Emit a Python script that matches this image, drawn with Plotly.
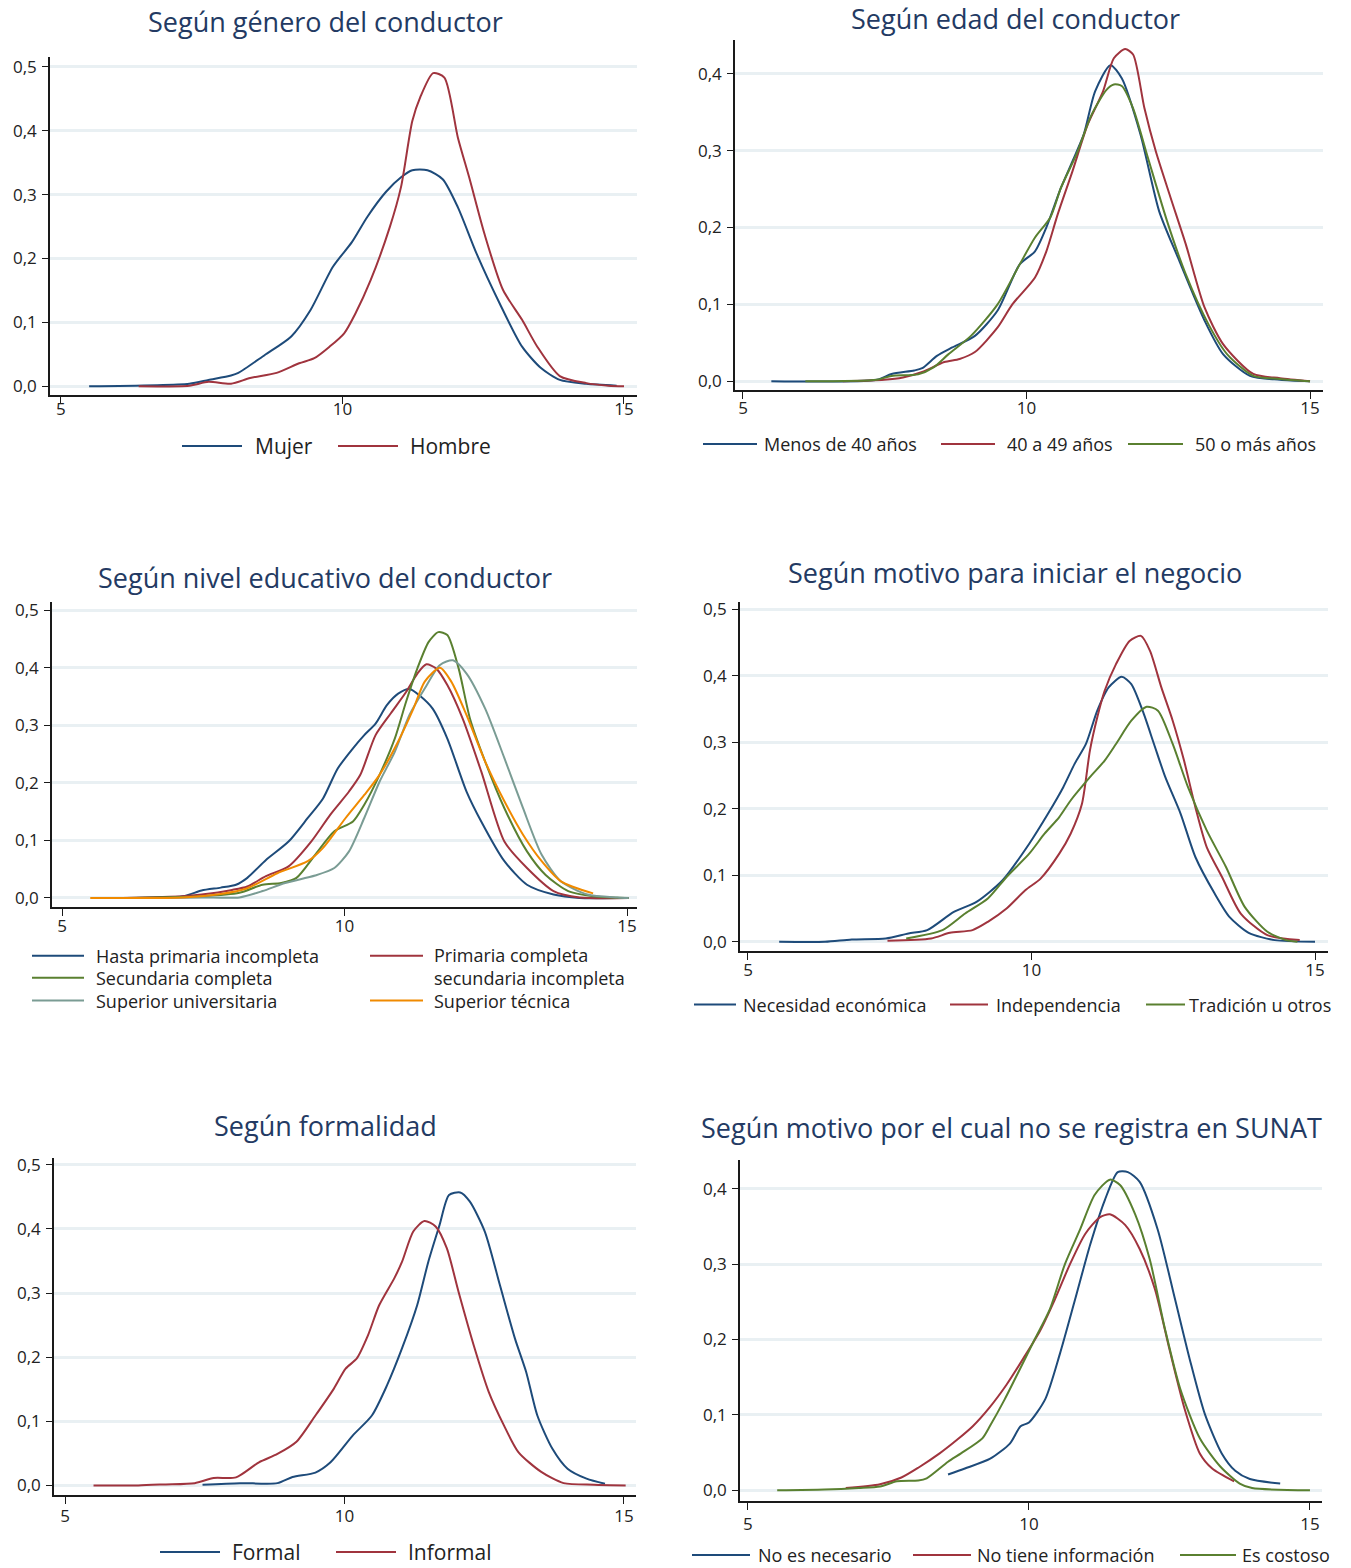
import plotly.graph_objects as go

W, H = 1351, 1568

# ---------------- DATA ----------------
# Panel 1: Según género del conductor
mujer_x = [5.50, 7.28, 7.62, 8.02, 8.15, 8.62, 9.09, 9.43, 9.83, 10.17, 10.44, 10.77, 11.04, 11.24, 11.51, 11.78, 12.05, 12.38, 12.79, 13.19, 13.52, 13.86, 14.33, 14.87]
mujer_y = [0.0, 0.004, 0.010, 0.017, 0.021, 0.049, 0.078, 0.119, 0.187, 0.226, 0.265, 0.304, 0.327, 0.338, 0.338, 0.324, 0.280, 0.208, 0.130, 0.062, 0.029, 0.010, 0.004, 0.001]
hombre_x = [6.38, 7.28, 7.62, 8.02, 8.36, 8.83, 9.23, 9.50, 9.77, 10.03, 10.23, 10.50, 10.84, 11.04, 11.24, 11.38, 11.61, 11.81, 12.05, 12.25, 12.52, 12.85, 13.19, 13.46, 13.86, 14.33, 14.73, 15.0]
hombre_y = [0.0, 0.001, 0.007, 0.004, 0.013, 0.021, 0.036, 0.044, 0.062, 0.083, 0.114, 0.166, 0.249, 0.312, 0.415, 0.452, 0.490, 0.483, 0.389, 0.327, 0.239, 0.151, 0.104, 0.062, 0.016, 0.005, 0.001, 0.0]

# Panel 2: Según edad del conductor
menos40_x = [5.50, 7.36, 7.62, 8.02, 8.16, 8.42, 8.69, 9.09, 9.49, 9.88, 10.15, 10.35, 10.61, 10.81, 11.01, 11.21, 11.48, 11.68, 12.01, 12.34, 12.67, 13.14, 13.47, 13.94, 14.47, 15.0]
menos40_y = [0.0, 0.002, 0.0095, 0.014, 0.017, 0.033, 0.044, 0.059, 0.092, 0.152, 0.169, 0.200, 0.252, 0.286, 0.321, 0.377, 0.411, 0.394, 0.321, 0.221, 0.161, 0.079, 0.035, 0.007, 0.002, 0.0]
de40a49_x = [6.76, 7.49, 7.82, 8.16, 8.55, 8.82, 9.09, 9.49, 9.75, 10.15, 10.35, 10.55, 10.81, 11.08, 11.35, 11.54, 11.74, 11.88, 12.08, 12.28, 12.54, 12.81, 13.14, 13.47, 14.0, 14.47, 15.0]
de40a49_y = [0.0, 0.002, 0.005, 0.012, 0.025, 0.029, 0.038, 0.070, 0.100, 0.135, 0.169, 0.217, 0.273, 0.334, 0.377, 0.420, 0.432, 0.425, 0.355, 0.299, 0.239, 0.178, 0.096, 0.048, 0.0095, 0.004, 0.0]
mas50_x = [6.10, 7.36, 7.62, 8.09, 8.36, 8.62, 9.02, 9.49, 9.88, 10.15, 10.42, 10.61, 10.88, 11.15, 11.41, 11.54, 11.68, 11.88, 12.14, 12.48, 12.81, 13.21, 13.54, 14.0, 14.47, 15.0]
mas50_y = [0.0, 0.002, 0.007, 0.009, 0.018, 0.035, 0.059, 0.100, 0.152, 0.187, 0.213, 0.252, 0.295, 0.347, 0.379, 0.386, 0.384, 0.355, 0.291, 0.208, 0.139, 0.074, 0.035, 0.007, 0.003, 0.0]

# Panel 3: Según nivel educativo del conductor
hpi_x = [6.07, 7.14, 7.47, 7.81, 8.08, 8.28, 8.61, 9.01, 9.35, 9.62, 9.88, 10.15, 10.35, 10.55, 10.75, 10.95, 11.15, 11.35, 11.56, 11.82, 12.16, 12.42, 12.83, 13.23, 13.70, 14.16, 14.83]
hpi_y = [0.0, 0.003, 0.013, 0.018, 0.023, 0.035, 0.066, 0.098, 0.139, 0.173, 0.225, 0.260, 0.283, 0.303, 0.335, 0.355, 0.363, 0.350, 0.329, 0.277, 0.185, 0.133, 0.064, 0.023, 0.006, 0.0, 0.0]
pcsi_x = [6.07, 7.14, 7.47, 8.01, 8.28, 8.61, 9.01, 9.41, 9.75, 10.08, 10.28, 10.55, 10.82, 11.09, 11.29, 11.45, 11.62, 11.82, 12.09, 12.42, 12.83, 13.23, 13.70, 14.16, 15.03]
pcsi_y = [0.0, 0.003, 0.006, 0.014, 0.020, 0.038, 0.055, 0.098, 0.145, 0.185, 0.214, 0.283, 0.321, 0.358, 0.390, 0.406, 0.399, 0.370, 0.312, 0.220, 0.098, 0.052, 0.012, 0.001, 0.0]
sc_x = [6.14, 7.47, 8.14, 8.55, 8.88, 9.15, 9.48, 9.82, 10.15, 10.35, 10.62, 10.89, 11.09, 11.29, 11.49, 11.66, 11.82, 12.02, 12.22, 12.49, 12.83, 13.23, 13.56, 13.96, 14.50, 15.03]
sc_y = [0.0, 0.003, 0.009, 0.023, 0.026, 0.035, 0.075, 0.116, 0.133, 0.162, 0.214, 0.277, 0.341, 0.399, 0.445, 0.462, 0.457, 0.399, 0.312, 0.237, 0.156, 0.081, 0.040, 0.012, 0.002, 0.0]
su_x = [6.81, 7.47, 8.14, 8.55, 8.95, 9.48, 9.82, 10.08, 10.35, 10.62, 10.89, 11.15, 11.42, 11.69, 11.92, 12.16, 12.49, 12.83, 13.16, 13.49, 13.83, 14.30, 14.83, 15.03]
su_y = [0.0, 0.001, 0.001, 0.012, 0.026, 0.039, 0.052, 0.081, 0.139, 0.202, 0.254, 0.318, 0.364, 0.405, 0.413, 0.390, 0.329, 0.243, 0.156, 0.075, 0.029, 0.006, 0.001, 0.0]
st_x = [5.50, 6.14, 7.14, 7.81, 8.28, 8.81, 9.35, 9.62, 10.02, 10.35, 10.62, 10.95, 11.22, 11.42, 11.69, 11.89, 12.16, 12.49, 12.83, 13.16, 13.49, 13.83, 14.40]
st_y = [0.0, 0.0, 0.001, 0.007, 0.017, 0.043, 0.064, 0.087, 0.139, 0.179, 0.214, 0.272, 0.329, 0.376, 0.400, 0.376, 0.318, 0.237, 0.168, 0.110, 0.064, 0.029, 0.008]

# Panel 4: Según motivo para iniciar el negocio
nec_x = [5.55, 6.36, 6.83, 7.43, 7.83, 8.16, 8.63, 9.03, 9.49, 9.96, 10.29, 10.56, 10.76, 10.96, 11.16, 11.36, 11.59, 11.76, 11.96, 12.16, 12.36, 12.63, 12.89, 13.23, 13.49, 13.83, 14.29, 15.0]
nec_y = [0.0, 0.0, 0.0035, 0.005, 0.0125, 0.0175, 0.045, 0.060, 0.0925, 0.1475, 0.1925, 0.2325, 0.2675, 0.2975, 0.3475, 0.3825, 0.3985, 0.3875, 0.3475, 0.2975, 0.2475, 0.1925, 0.1275, 0.0725, 0.0375, 0.0135, 0.0025, 0.0]
ind_x = [7.46, 8.23, 8.56, 8.96, 9.23, 9.56, 9.89, 10.16, 10.49, 10.69, 10.89, 11.03, 11.16, 11.29, 11.49, 11.73, 11.93, 12.09, 12.29, 12.49, 12.69, 12.89, 13.09, 13.36, 13.69, 14.16, 14.73]
ind_y = [0.0015, 0.005, 0.0135, 0.0175, 0.030, 0.050, 0.0775, 0.095, 0.1325, 0.1625, 0.2075, 0.2875, 0.3375, 0.3775, 0.4175, 0.4525, 0.460, 0.4375, 0.3825, 0.3325, 0.2725, 0.2025, 0.1425, 0.0975, 0.0425, 0.010, 0.0025]
tra_x = [7.79, 8.43, 8.83, 9.23, 9.56, 9.96, 10.23, 10.49, 10.69, 11.03, 11.29, 11.49, 11.76, 12.03, 12.23, 12.49, 12.76, 13.09, 13.43, 13.76, 14.16, 14.49, 14.69]
tra_y = [0.005, 0.0175, 0.0425, 0.065, 0.0975, 0.1325, 0.1625, 0.1875, 0.2125, 0.2475, 0.2725, 0.2975, 0.3325, 0.3535, 0.3475, 0.2975, 0.2325, 0.1675, 0.1125, 0.0525, 0.015, 0.0025, 0.0]

# Panel 5: Según formalidad
formal_x = [7.46, 8.13, 8.80, 9.07, 9.48, 9.75, 10.15, 10.49, 10.76, 11.03, 11.30, 11.50, 11.70, 11.87, 12.07, 12.24, 12.51, 12.78, 13.05, 13.25, 13.45, 13.72, 13.99, 14.33, 14.66]
formal_y = [0.001, 0.0035, 0.0035, 0.013, 0.020, 0.036, 0.078, 0.109, 0.156, 0.214, 0.281, 0.349, 0.406, 0.453, 0.457, 0.443, 0.396, 0.3125, 0.229, 0.177, 0.109, 0.057, 0.026, 0.0105, 0.0025]
informal_x = [5.51, 6.31, 6.78, 7.32, 7.66, 8.06, 8.47, 8.80, 9.14, 9.48, 9.81, 10.02, 10.22, 10.42, 10.62, 10.89, 11.03, 11.23, 11.43, 11.63, 11.83, 12.04, 12.31, 12.58, 12.85, 13.11, 13.52, 13.92, 14.46, 15.03]
informal_y = [0.0, 0.0, 0.0015, 0.0035, 0.0115, 0.0125, 0.036, 0.049, 0.068, 0.109, 0.151, 0.182, 0.198, 0.234, 0.281, 0.323, 0.349, 0.396, 0.4125, 0.404, 0.370, 0.302, 0.219, 0.146, 0.094, 0.052, 0.021, 0.0035, 0.001, 0.0]

# Panel 6: Según motivo por el cual no se registra en SUNAT
nonec_x = [8.56, 8.86, 9.31, 9.66, 9.85, 10.0, 10.29, 10.55, 10.82, 11.09, 11.35, 11.58, 11.76, 11.97, 12.29, 12.60, 12.86, 13.13, 13.43, 13.67, 13.93, 14.47]
nonec_y = [0.021, 0.029, 0.042, 0.062, 0.085, 0.090, 0.121, 0.181, 0.253, 0.326, 0.385, 0.422, 0.422, 0.409, 0.346, 0.253, 0.174, 0.101, 0.049, 0.026, 0.015, 0.009]
noinfo_x = [6.74, 7.35, 7.73, 8.03, 8.41, 8.72, 9.0, 9.3, 9.6, 9.9, 10.2, 10.46, 10.73, 11.0, 11.26, 11.44, 11.71, 11.97, 12.24, 12.50, 12.77, 13.04, 13.26, 13.65]
noinfo_y = [0.003, 0.008, 0.017, 0.030, 0.049, 0.067, 0.085, 0.110, 0.140, 0.175, 0.212, 0.253, 0.300, 0.340, 0.362, 0.366, 0.352, 0.320, 0.267, 0.187, 0.108, 0.049, 0.029, 0.012]
costoso_x = [5.52, 6.36, 6.97, 7.35, 7.65, 8.03, 8.18, 8.56, 8.79, 9.17, 9.31, 9.57, 9.84, 10.10, 10.37, 10.64, 10.91, 11.17, 11.44, 11.62, 11.89, 12.15, 12.42, 12.69, 13.04, 13.40, 13.75, 13.97, 15.0]
costoso_y = [0.0, 0.001, 0.003, 0.005, 0.012, 0.013, 0.016, 0.038, 0.049, 0.069, 0.086, 0.121, 0.161, 0.200, 0.240, 0.300, 0.346, 0.392, 0.412, 0.405, 0.366, 0.306, 0.214, 0.135, 0.069, 0.032, 0.009, 0.003, 0.0]

titles = ["Según género del conductor", "Según edad del conductor",
          "Según nivel educativo del conductor", "Según motivo para iniciar el negocio",
          "Según formalidad", "Según motivo por el cual no se registra en SUNAT"]
x_ticks = [5, 10, 15]
y_ticks_05 = [0, 0.1, 0.2, 0.3, 0.4, 0.5]
y_ticks_04 = [0, 0.1, 0.2, 0.3, 0.4]

# ---------------- STYLE ----------------
BLUE = "#1e4b7a"
RED = "#a0343e"
GREEN = "#5a8030"
GRAY = "#7a9c94"
ORANGE = "#f08a00"
TITLE_C = "#233a63"
FONT = "Open Sans"

panels = [
    dict(series=[("Mujer", mujer_x, mujer_y, BLUE), ("Hombre", hombre_x, hombre_y, RED)],
         dom_px=(50, 637), dom_py=(52, 392), xr=(4.805, 15.231), yr=(-0.014, 0.5156), yt=y_ticks_05,
         title_xy=(325, 17), xstand=-9),
    dict(series=[("Menos de 40 años", menos40_x, menos40_y, BLUE), ("40 a 49 años", de40a49_x, de40a49_y, RED),
                 ("50 o más años", mas50_x, mas50_y, GREEN)],
         dom_px=(735, 1323), dom_py=(35, 387), xr=(4.859, 15.229), yr=(-0.0117, 0.444), yt=y_ticks_04,
         title_xy=(1015, 14), xstand=-5),
    dict(series=[("Hasta primaria incompleta", hpi_x, hpi_y, BLUE),
                 ("Primaria completa<br>secundaria incompleta", pcsi_x, pcsi_y, RED),
                 ("Secundaria completa", sc_x, sc_y, GREEN),
                 ("Superior universitaria", su_x, su_y, GRAY),
                 ("Superior técnica", st_x, st_y, ORANGE)],
         dom_px=(52, 637), dom_py=(600, 906), xr=(4.823, 15.177), yr=(-0.0156, 0.5138), yt=y_ticks_05,
         title_xy=(325, 575), xstand=-4),
    dict(series=[("Necesidad económica", nec_x, nec_y, BLUE), ("Independencia", ind_x, ind_y, RED),
                 ("Tradición u otros", tra_x, tra_y, GREEN)],
         dom_px=(740, 1328), dom_py=(600, 950), xr=(4.859, 15.229), yr=(-0.0135, 0.5105), yt=y_ticks_05,
         title_xy=(1015, 570), xstand=-4),
    dict(series=[("Formal", formal_x, formal_y, BLUE), ("Informal", informal_x, informal_y, RED)],
         dom_px=(54, 636), dom_py=(1158, 1497), xr=(4.803, 15.215), yr=(-0.0155, 0.511), yt=y_ticks_05,
         title_xy=(325, 1126), xstand=-2),
    dict(series=[("No es necesario", nonec_x, nonec_y, BLUE), ("No tiene información", noinfo_x, noinfo_y, RED),
                 ("Es costoso", costoso_x, costoso_y, GREEN)],
         dom_px=(740, 1322), dom_py=(1160, 1503), xr=(4.858, 15.214), yr=(-0.0145, 0.4383), yt=y_ticks_04,
         title_xy=(1011, 1128), xstand=0),
]

# legend layouts: (line_x0, line_x1, text_x, y, fontsize) per series
legends = [
    [(182, 242, 253, 443, 21), (338, 398, 408, 443, 21)],
    [(703, 757, 762, 441, 18), (941, 995, 1005, 441, 18), (1128, 1183, 1193, 441, 18)],
    [(32, 84, 94, 955, 18), (370, 423, 432, 966, 18), (32, 84, 94, 977, 18), (32, 84, 94, 1000, 18), (370, 423, 432, 1000, 18)],
    [(694, 736, 741, 1004, 18), (950, 988, 994, 1004, 18), (1146, 1185, 1187, 1004, 18)],
    [(160, 220, 230, 1554, 21), (336, 396, 406, 1554, 21)],
    [(692, 750, 756, 1557, 18), (913, 971, 975, 1557, 18), (1180, 1236, 1240, 1557, 18)],
]

def px(x):
    return x / W

def py(y):
    return 1 - y / H

fig = go.Figure()
shapes = []
annotations = []

for i, p in enumerate(panels):
    n = i + 1
    xa = "x" if n == 1 else f"x{n}"
    ya = "y" if n == 1 else f"y{n}"
    for (name, xs, ys, col) in p["series"]:
        fig.add_trace(go.Scatter(x=xs, y=ys, mode="lines", name=name.replace("<br>", " "),
                                 line=dict(color=col, width=2, shape="spline", smoothing=0.7),
                                 xaxis=xa, yaxis=ya, showlegend=False, hoverinfo="skip"))
    xkey = "xaxis" if n == 1 else f"xaxis{n}"
    ykey = "yaxis" if n == 1 else f"yaxis{n}"
    fig.update_layout(**{
        xkey: dict(domain=[px(p["dom_px"][0]), px(p["dom_px"][1])], range=list(p["xr"]),
                   anchor=ya, tickvals=x_ticks, showgrid=False, zeroline=False,
                   showline=True, linecolor="#1a1a1a", linewidth=1.5,
                   ticks="outside", ticklen=7, tickcolor="#1a1a1a", tickwidth=1.2,
                   ticklabelstandoff=p["xstand"],
                   tickfont=dict(family=FONT, size=17, color="#222222")),
        ykey: dict(domain=[py(p["dom_py"][1]), py(p["dom_py"][0])], range=list(p["yr"]),
                   anchor=xa, tickvals=p["yt"], tickformat=".1f", showgrid=True,
                   gridcolor="#e9f0f3", gridwidth=2.5, zeroline=False,
                   showline=True, linecolor="#1a1a1a", linewidth=1.5,
                   ticks="outside", ticklen=6, tickcolor="#1a1a1a", tickwidth=1.2,
                   ticklabelstandoff=2,
                   tickfont=dict(family=FONT, size=17, color="#222222")),
    })
    annotations.append(dict(text=titles[i], x=px(p["title_xy"][0]), y=py(p["title_xy"][1]),
                            xref="paper", yref="paper", xanchor="center", yanchor="middle",
                            showarrow=False, font=dict(family=FONT, size=27, color=TITLE_C)))
    for (name, xs, ys, col), (lx0, lx1, tx, ly, fs) in zip(p["series"], legends[i]):
        if "<br>" in name:
            line_y = ly - 11
        else:
            line_y = ly
        shapes.append(dict(type="line", xref="paper", yref="paper",
                           x0=px(lx0), x1=px(lx1), y0=py(line_y), y1=py(line_y),
                           line=dict(color=col, width=2)))
        annotations.append(dict(text=name, x=px(tx), y=py(ly), xref="paper", yref="paper",
                                xanchor="left", yanchor="middle", align="left", showarrow=False,
                                font=dict(family=FONT, size=fs, color="#222222")))

fig.update_layout(width=W, height=H, margin=dict(l=0, r=0, t=0, b=0),
                  paper_bgcolor="white", plot_bgcolor="white", separators=",.",
                  shapes=shapes, annotations=annotations, showlegend=False,
                  font=dict(family=FONT))

fig.write_html("out.html")
